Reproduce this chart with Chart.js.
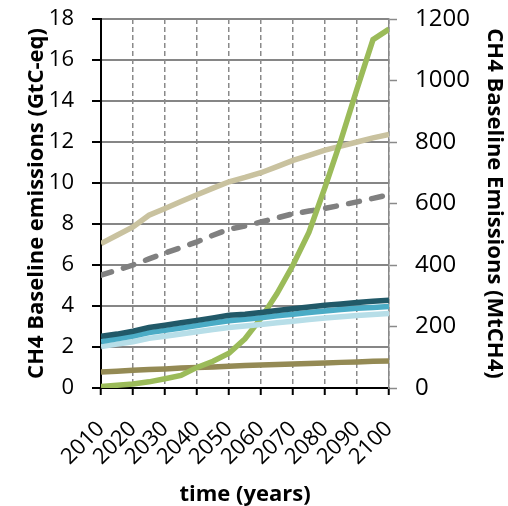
<!DOCTYPE html>
<html lang="en">
<head>
    <meta charset="UTF-8">
    <title>CH4 Baseline emissions</title>
    <script src="https://cdn.jsdelivr.net/npm/chart.js"></script>
    <style>
        body { margin: 0; background: #fff; }
        .chart-box { width: 508px; height: 506px; position: relative; }
        .x-title {
            position: absolute; left: 101px; width: 288px; top: 477px;
            line-height: 26px; text-align: center;
            font: bold 22px 'Open Sans', sans-serif; color: #000;
        }
    </style>
</head>
<body>
    <div class="chart-box">
        <canvas id="emissionsChart"></canvas>
        <div class="x-title">time (years)</div>
    </div>
    <script>
        // Data, 5-year steps
        const years = [2010, 2015, 2020, 2025, 2030, 2035, 2040, 2045, 2050, 2055,
                       2060, 2065, 2070, 2075, 2080, 2085, 2090, 2095, 2100];
        const tickYears = [2010, 2020, 2030, 2040, 2050, 2060, 2070, 2080, 2090, 2100];

        // right axis (MtCH4)
        const greenMt = [5, 9, 13, 20, 30, 41, 67, 87, 113, 160,
                         227, 307, 400, 507, 653, 807, 973, 1133, 1167];
        // left axis (GtC-eq)
        const tanSeries = [7.05, 7.45, 7.86, 8.43, 8.76, 9.1, 9.43, 9.75, 10.06, 10.27,
                           10.5, 10.8, 11.1, 11.35, 11.6, 11.8, 12.0, 12.2, 12.37];
        const graySeries = [5.5, 5.75, 6.0, 6.3, 6.58, 6.85, 7.13, 7.45, 7.75, 7.9,
                            8.1, 8.3, 8.5, 8.63, 8.76, 8.92, 9.08, 9.25, 9.43];
        const darkTeal = [2.52, 2.63, 2.77, 2.95, 3.06, 3.18, 3.3, 3.42, 3.55, 3.6,
                          3.68, 3.78, 3.87, 3.95, 4.04, 4.1, 4.17, 4.23, 4.28];
        const midBlue = [2.27, 2.4, 2.53, 2.7, 2.81, 2.93, 3.05, 3.17, 3.28, 3.35,
                         3.43, 3.52, 3.6, 3.68, 3.76, 3.83, 3.89, 3.93, 3.97];
        const lightBlue = [2.02, 2.14, 2.26, 2.42, 2.52, 2.63, 2.74, 2.85, 2.95, 3.02,
                           3.1, 3.18, 3.26, 3.34, 3.42, 3.48, 3.54, 3.59, 3.63];
        const olive = [0.78, 0.82, 0.86, 0.9, 0.93, 0.97, 1.0, 1.03, 1.06, 1.1,
                       1.12, 1.15, 1.17, 1.2, 1.22, 1.25, 1.27, 1.3, 1.32];

        const pts = arr => arr.map((v, i) => ({ x: years[i], y: v }));

        const font = 'Open Sans';
        const gridGray = '#8a8a8a';

        function line(data, color, axis, extra) {
            return Object.assign({
                data: pts(data),
                borderColor: color,
                borderWidth: 5.5,
                pointRadius: 0,
                tension: 0,
                fill: false,
                yAxisID: axis
            }, extra || {});
        }

        // fixed plot box: left 101, right 389, top 19, bottom 388
        function fixVertical(width) {
            return s => { s.width = width; s.paddingTop = 19; s.paddingBottom = 0; };
        }

        // horizontal grid (slid under everything already drawn) + left tick marks,
        // placed from the y scale's own ticks
        const hGrid = {
            id: 'hGrid',
            afterDraw(chart) {
                const { ctx, chartArea } = chart;
                const s = chart.scales.y;
                ctx.save();
                ctx.globalCompositeOperation = 'destination-over';
                ctx.fillStyle = '#868686';
                s.ticks.forEach(t => {
                    const py = Math.round(s.getPixelForValue(t.value)) - 1;
                    ctx.fillRect(chartArea.left, py, chartArea.right - chartArea.left, 2);
                });
                ctx.globalCompositeOperation = 'source-over';
                ctx.fillStyle = '#000';
                s.ticks.forEach(t => {
                    const py = Math.round(s.getPixelForValue(t.value)) - 1;
                    ctx.fillRect(chartArea.left - 9, py, 9, 2);
                });
                ctx.restore();
            }
        };

        const ctx = document.getElementById('emissionsChart').getContext('2d');
        new Chart(ctx, {
            type: 'line',
            data: {
                datasets: [
                    line(darkTeal, '#215968', 'y'),
                    line(midBlue, '#4bacc6', 'y'),
                    line(lightBlue, '#b7dee8', 'y'),
                    line(greenMt, '#9bbb59', 'y1'),
                    line(olive, '#948a54', 'y'),
                    line(graySeries, '#808080', 'y', { borderDash: [11, 12.5], borderCapStyle: 'round' }),
                    line(tanSeries, '#c9c29f', 'y')
                ]
            },
            plugins: [hGrid],
            options: {
                responsive: true,
                maintainAspectRatio: false,
                animation: false,
                layout: { padding: 0 },
                plugins: { legend: { display: false }, tooltip: { enabled: false } },
                scales: {
                    x: {
                        type: 'linear',
                        min: 2010,
                        max: 2100,
                        afterBuildTicks: s => { s.ticks = tickYears.map(v => ({ value: v })); },
                        afterFit: s => { s.height = 118; },
                        ticks: {
                            autoSkip: false,
                            minRotation: 45,
                            maxRotation: 45,
                            padding: 21,
                            color: '#000',
                            font: { family: font, size: 22 },
                            callback: v => String(v)
                        },
                        grid: {
                            color: gridGray,
                            lineWidth: 1.5,
                            tickLength: 7,
                            tickColor: '#000',
                            tickWidth: 2
                        },
                        border: { color: '#000', width: 2, dash: [5, 3] }
                    },
                    y: {
                        type: 'linear',
                        position: 'left',
                        min: 0,
                        max: 18,
                        afterFit: fixVertical(101),
                        ticks: {
                            stepSize: 2,
                            padding: 18,
                            color: '#000',
                            font: { family: font, size: 22 }
                        },
                        grid: { display: false, tickLength: 9 },
                        border: { color: '#000', width: 2 },
                        title: {
                            display: true,
                            text: 'CH4 Baseline emissions (GtC-eq)',
                            color: '#000',
                            font: { family: font, size: 22, weight: 'bold' },
                            padding: { top: 24, bottom: 0 }
                        }
                    },
                    y1: {
                        type: 'linear',
                        position: 'right',
                        min: 0,
                        max: 1200,
                        afterFit: fixVertical(119),
                        ticks: {
                            stepSize: 200,
                            padding: 18,
                            color: '#000',
                            font: { family: font, size: 24 },
                            callback: v => String(v)
                        },
                        grid: {
                            drawOnChartArea: false,
                            tickLength: 8,
                            tickColor: gridGray,
                            tickWidth: 1.5
                        },
                        border: { color: gridGray, width: 1.5 },
                        title: {
                            display: true,
                            text: 'CH4 Baseline Emissions (MtCH4)',
                            color: '#000',
                            font: { family: font, size: 22, weight: 'bold' },
                            padding: { top: 1, bottom: 0 }
                        }
                    }
                }
            }
        });
    </script>
</body>
</html>
